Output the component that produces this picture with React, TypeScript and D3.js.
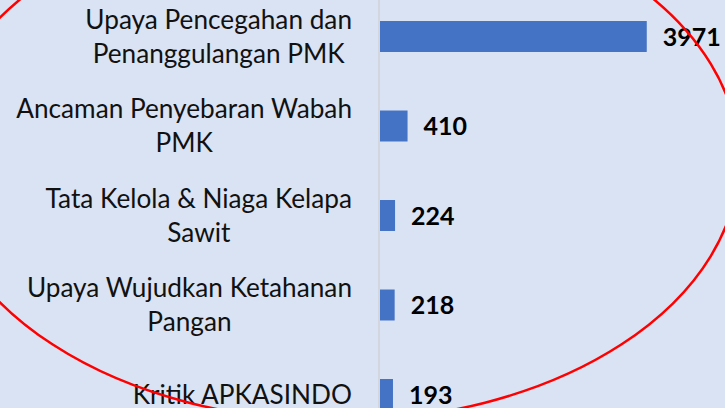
import React, { useEffect, useRef } from "react";
import * as d3 from "d3";

const categories: string[][] = [
  ["Upaya Pencegahan dan", "Penanggulangan PMK"],
  ["Ancaman Penyebaran Wabah", "PMK"],
  ["Tata Kelola & Niaga Kelapa", "Sawit"],
  ["Upaya Wujudkan Ketahanan", "Pangan"],
  ["Kritik APKASINDO"],
];
const values: number[] = [3971, 410, 224, 218, 193];

const W = 725;
const H = 408;

export default function App() {
  const ref = useRef<SVGSVGElement | null>(null);

  useEffect(() => {
    const svg = d3.select(ref.current);
    svg.selectAll("*").remove();

    svg.append("rect").attr("x", 0).attr("y", 0).attr("width", W).attr("height", H).attr("fill", "#dae3f3");

    const keys = categories.map((c) => c.join(" "));
    const y = d3.scaleBand<string>().domain(keys).range([-8.25, 439.25]).paddingInner(0.654).paddingOuter(0.327);
    const x = d3.scaleLinear().domain([0, 4000]).range([380, 648.7]);

    // axis line
    svg.append("line").attr("x1", 379).attr("x2", 379).attr("y1", 0).attr("y2", H)
      .attr("stroke", "#d3d6dc").attr("stroke-width", 2);

    // bars
    svg.selectAll("rect.bar").data(values).enter().append("rect")
      .attr("class", "bar")
      .attr("x", x(0))
      .attr("y", (_d, i) => y(keys[i]) as number)
      .attr("width", (d) => x(d) - x(0))
      .attr("height", y.bandwidth())
      .attr("fill", "#4472c4");

    // value labels
    svg.selectAll("text.val").data(values).enter().append("text")
      .attr("class", "val")
      .attr("x", (d) => x(d) + 16)
      .attr("y", (_d, i) => (y(keys[i]) as number) + y.bandwidth() / 2 + 9)
      .attr("font-family", "Lato, sans-serif")
      .attr("font-weight", "bold")
      .attr("font-size", 25)
      .attr("fill", "#000")
      .text((d) => String(d));

    // category labels: block right-aligned at 352, lines centered within block
    const lineH = 34;
    categories.forEach((lines, i) => {
      const cy = (y(keys[i]) as number) + y.bandwidth() / 2;
      const g = svg.append("g");
      const texts = lines.map((ln, j) =>
        g.append("text")
          .attr("font-family", "Lato, sans-serif")
          .attr("font-size", 26.2)
          .attr("fill", "#111")
          .attr("text-anchor", "middle")
          .attr("y", cy + 9 + (j - (lines.length - 1) / 2) * lineH)
          .text(ln)
      );
      const maxW = Math.max(...texts.map((t) => (t.node() as SVGTextElement).getComputedTextLength()));
      texts.forEach((t) => t.attr("x", 352 - maxW / 2));
    });

    // red ellipse annotation
    svg.append("ellipse").attr("cx", 337).attr("cy", 160).attr("rx", 402).attr("ry", 261)
      .attr("fill", "none").attr("stroke", "#ff0000").attr("stroke-width", 2.5);
  }, []);

  return (
    <svg ref={ref} width={W} height={H} style={{ position: "absolute", left: 0, top: 0, display: "block" }} />
  );
}
